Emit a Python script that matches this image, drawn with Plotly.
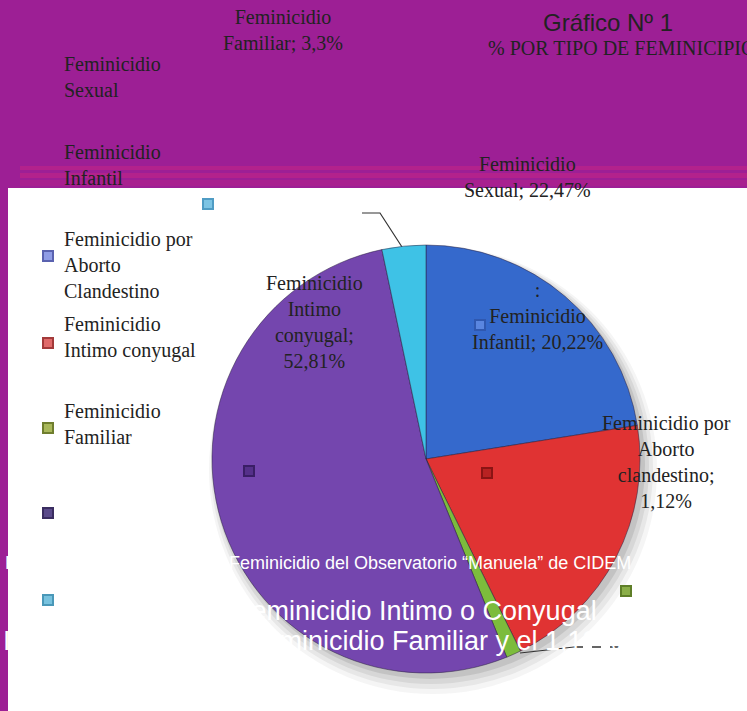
import plotly.graph_objects as go

# ---------------- data ----------------
categories = [
    "Feminicidio Sexual",
    "Feminicidio Infantil",
    "Feminicidio por Aborto clandestino",
    "Feminicidio Intimo conyugal",
    "Feminicidio Familiar",
]
values = [22.47, 20.22, 1.12, 52.81, 3.3]
slice_colors = ["#3569cc", "#e03333", "#7cbc3c", "#7446ae", "#3ec2e6"]

title_text = "Gráfico Nº 1"
subtitle_text = "% POR TIPO DE FEMINICIPIO"

# ---------------- layout helpers ----------------
W, H = 747, 711
PURPLE = "#9d1f95"
SERIF = "Liberation Serif, Times New Roman, serif"
SANS = "Liberation Sans, Arial, sans-serif"

pie_cx, pie_cy, pie_r = 426, 459, 214

fig = go.Figure()

fig.add_trace(go.Pie(
    labels=categories,
    values=values,
    sort=False,
    direction="clockwise",
    rotation=0,
    marker=dict(colors=slice_colors, line=dict(color="rgba(40,30,60,0.5)", width=1)),
    textinfo="none",
    hoverinfo="label+percent",
    showlegend=False,
    domain=dict(
        x=[(pie_cx - pie_r) / W, (pie_cx + pie_r) / W],
        y=[1 - (pie_cy + pie_r) / H, 1 - (pie_cy - pie_r) / H],
    ),
))

# leader line for the small label at top
leader_x = [362, 380, 402]
leader_y = [213, 213, 247]
fig.add_trace(go.Scatter(
    x=leader_x, y=leader_y, mode="lines",
    line=dict(color="#333333", width=1.2),
    hoverinfo="skip", showlegend=False,
))

shapes = []
# white panel
shapes.append(dict(type="rect", xref="x", yref="y", x0=8, x1=W + 5, y0=188, y1=H + 5,
                   fillcolor="white", line=dict(width=0), layer="below"))
# magenta stripes
for (a, b, c) in [(166, 170, "#b3228c"), (173, 178, "#b3228c"), (180, 186, "#a8208f")]:
    shapes.append(dict(type="rect", xref="x", yref="y", x0=20, x1=W + 5, y0=a, y1=b,
                       fillcolor=c, line=dict(width=0), layer="below"))
# soft shadow beneath pie
for (dx, dy, extra, op) in [(7, 11, 10, 0.05), (6, 9, 7, 0.07), (5, 7, 4, 0.09), (4, 5, 1, 0.12)]:
    shapes.append(dict(type="circle", xref="x", yref="y",
                       x0=pie_cx - pie_r - extra + dx, x1=pie_cx + pie_r + extra + dx,
                       y0=pie_cy - pie_r - extra + dy, y1=pie_cy + pie_r + extra + dy,
                       fillcolor="rgba(60,60,60,%.2f)" % op, line=dict(width=0), layer="below"))

# small legend-key squares
key_x = [208, 48, 48, 48, 48, 48, 626, 480, 487, 249]
key_y = [204, 256, 343, 428, 513, 600, 591, 325, 473, 471]
key_fill = ["#7cc4e4", "#8f9ce6", "#e06a6a", "#a9b85a", "#5a4a8a", "#78c2de",
            "#8aae48", "#5a86e0", "#b82222", "#55308a"]
key_line = ["#4f9cc4", "#5a62b0", "#a33a3a", "#6f7e2e", "#3a2d60", "#4a98b8",
            "#5e7e28", "#2f58b0", "#8a1414", "#3a1e66"]
for x, y, f, l in zip(key_x, key_y, key_fill, key_line):
    shapes.append(dict(type="rect", xref="x", yref="y", x0=x - 5, x1=x + 5, y0=y - 5, y1=y + 5,
                       fillcolor=f, line=dict(color=l, width=2), layer="above"))

# leader line near bottom label
shapes.append(dict(type="line", xref="x", yref="y", x0=520, y0=653, x1=574, y1=647,
                   line=dict(color="#333", width=1), layer="above"))
shapes.append(dict(type="line", xref="x", yref="y", x0=574, y0=647, x1=622, y1=647,
                   line=dict(color="#333", width=1.5, dash="dash"), layer="above"))

annotations = []


def add_text(text, x, y, size, family=SERIF, color="#222222", xanchor="center", align="center"):
    annotations.append(dict(
        text=text, x=x, y=y, xref="x", yref="y", showarrow=False,
        xanchor=xanchor, yanchor="middle", align=align,
        font=dict(family=family, size=size, color=color),
    ))


add_text("Feminicidio<br>Familiar; 3,3%", 283, 30, 20)
add_text(title_text, 608, 22, 24, family=SANS)
add_text(subtitle_text, 486, 48, 20, xanchor="left", align="left")
add_text("Feminicidio<br>Sexual", 62, 77, 20, xanchor="left", align="left")
add_text("Feminicidio<br>Infantil", 62, 165, 20, xanchor="left", align="left")
add_text("Feminicidio<br>Sexual; 22,47%", 527, 177, 20)
add_text("Feminicidio por<br>Aborto<br>Clandestino", 62, 265, 20, xanchor="left", align="left")
add_text("Feminicidio<br>Intimo conyugal", 62, 337, 20, xanchor="left", align="left")
add_text("Feminicidio<br>Familiar", 62, 424, 20, xanchor="left", align="left")
add_text("Feminicidio<br>Intimo<br>conyugal;<br>52,81%", 314, 322, 20)
add_text(":<br>Feminicidio<br>Infantil; 20,22%", 537, 316, 20)
add_text("Feminicidio por<br>Aborto<br>clandestino;<br>1,12%", 666, 462, 20)

# white overlay text (only visible where it crosses coloured areas)
add_text("F", 3, 563, 18, family=SANS, color="white", xanchor="left")
add_text("Feminicidio del Observatorio \u201cManuela\u201d de CIDEM", 227, 563, 18,
         family=SANS, color="white", xanchor="left")
add_text("d", -6, 611, 27, family=SANS, color="white", xanchor="left")
add_text("Feminicidio Intimo o Conyugal", 233, 611, 27, family=SANS, color="white", xanchor="left")
add_text("I", 1, 641, 27, family=SANS, color="white", xanchor="left")
add_text("Feminicidio Familiar y el 1,12%", 624, 641, 27, family=SANS, color="white", xanchor="right")

fig.update_layout(
    width=W, height=H,
    margin=dict(l=0, r=0, t=0, b=0),
    paper_bgcolor=PURPLE,
    plot_bgcolor="rgba(0,0,0,0)",
    xaxis=dict(range=[0, W], visible=False, fixedrange=True),
    yaxis=dict(range=[H, 0], visible=False, fixedrange=True),
    shapes=shapes,
    annotations=annotations,
    showlegend=False,
)

fig.write_html(
    "out.html",
    config={"displayModeBar": False},
    post_script="document.body.style.margin='0';document.body.style.padding='0';document.body.style.overflow='hidden';",
)
